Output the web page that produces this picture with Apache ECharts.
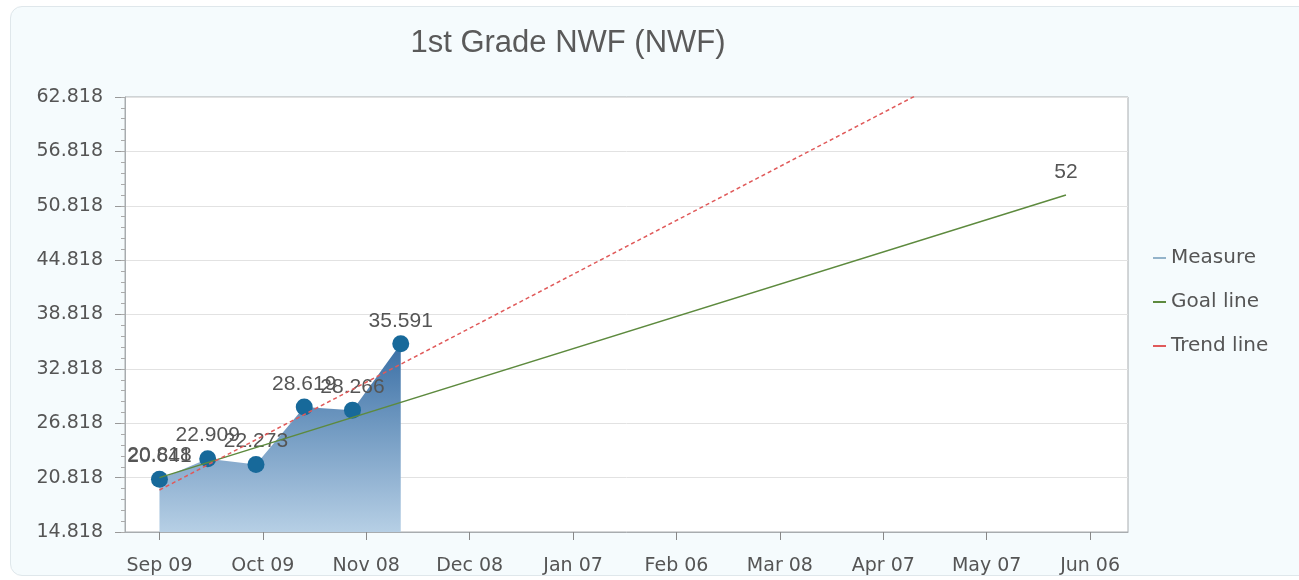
<!DOCTYPE html>
<html>
<head>
<meta charset="utf-8">
<script src="https://cdn.jsdelivr.net/npm/echarts@6/dist/echarts.min.js"></script>
<style>
  html, body { margin: 0; padding: 0; background: #fff; }
  .panel {
    position: absolute; left: 10px; top: 6px; width: 1300px; height: 568px;
    background: #f5fbfd; border: 1px solid #dfe7eb; border-radius: 12px;
  }
  #chart { position: absolute; left: 0; top: 0; width: 1299px; height: 580px; }
</style>
</head>
<body>
<div class="panel"></div>
<div id="chart"></div>
<script>
// x positions are days after the first measure (Sep 09)
var tickDays = [0, 30, 60, 90, 120, 150, 180, 210, 240, 270];
var tickLabels = ['Sep 09', 'Oct 09', 'Nov 08', 'Dec 08', 'Jan 07', 'Feb 06', 'Mar 08', 'Apr 07', 'May 07', 'Jun 06'];

var measureDays = [0, 14, 28, 42, 56, 70];
var measureValues = [20.641, 22.909, 22.273, 28.619, 28.266, 35.591];

var goalDays = [0, 263];
var goalValues = [20.818, 52];

var trendDays = [0, 270];
var trendValues = [19.45, 73.0];

var yTicks = [14.818, 20.818, 26.818, 32.818, 38.818, 44.818, 50.818, 56.818, 62.818];
var yMin = 14.818, yMax = 62.818;

// minor ticks on the y axis, 5 per major step
var yMinor = [];
for (var i = 0; i <= 40; i++) yMinor.push(+(yMin + i * 1.2).toFixed(3));

function pairs(xs, ys) {
  return xs.map(function (x, i) { return [x, ys[i]]; });
}

var labelFont = { fontFamily: 'Liberation Sans', fontSize: 21, color: '#555' };
var axisFont = { fontFamily: 'DejaVu Sans', fontSize: 19, color: '#555' };

var chart = echarts.init(document.getElementById('chart'));
chart.setOption({
  animation: false,
  title: {
    text: '1st Grade NWF (NWF)',
    left: 563, top: 23, textAlign: 'center',
    textStyle: { fontFamily: 'Liberation Sans', fontSize: 31, fontWeight: 'normal', color: '#5a5a5a' }
  },
  legend: {
    orient: 'vertical', left: 1148, top: 243, itemGap: 24,
    icon: 'rect', itemWidth: 13, itemHeight: 2,
    textStyle: { fontFamily: 'DejaVu Sans', fontSize: 20, color: '#555' },
    data: [
      { name: 'Measure', itemStyle: { color: '#93b3ca' } },
      { name: 'Goal line', itemStyle: { color: '#5d8a3e', opacity: 1 } },
      { name: 'Trend line', itemStyle: { color: '#e05a5a' } }
    ]
  },
  grid: {
    left: 125, top: 97, right: 171, bottom: 48,
    show: true, backgroundColor: '#fff', borderColor: '#a8acaf', borderWidth: 1
  },
  xAxis: {
    type: 'value', min: -10, max: 281,
    axisLine: { onZero: false, lineStyle: { color: '#a8acaf' } },
    axisTick: { show: true, length: 8, customValues: tickDays, lineStyle: { color: '#888' } },
    axisLabel: Object.assign({
      customValues: tickDays, margin: 25,
      formatter: function (v) { return tickLabels[tickDays.indexOf(v)]; }
    }, axisFont),
    splitLine: { show: false }
  },
  yAxis: [{
    type: 'value', min: yMin, max: yMax,
    axisLine: { show: true, onZero: false, lineStyle: { color: '#a8acaf' } },
    axisTick: { show: true, length: 10, customValues: yTicks, lineStyle: { color: '#999' } },
    axisLabel: Object.assign({
      customValues: yTicks, margin: 22,
      formatter: function (v) { return v.toFixed(3); }
    }, axisFont),
    splitLine: { show: true, lineStyle: { color: '#e2e2e2' } }
  }, {
    type: 'value', min: yMin, max: yMax, position: 'left',
    axisLine: { show: false, onZero: false },
    axisTick: { show: true, length: 4, customValues: yMinor, lineStyle: { color: '#aaa' } },
    axisLabel: { show: false },
    splitLine: { show: false }
  }],
  series: [{
    name: 'Measure', type: 'line',
    data: pairs(measureDays, measureValues),
    symbol: 'circle', symbolSize: 17,
    itemStyle: { color: '#17699a' },
    lineStyle: { width: 0, color: '#4d80b0' },
    areaStyle: {
      opacity: 1,
      color: new echarts.graphic.LinearGradient(0, 0, 0, 1, [
        { offset: 0, color: '#3a6fa5' },
        { offset: 1, color: '#b6cfe5' }
      ])
    },
    label: Object.assign({ show: true, position: 'top', distance: 4 }, labelFont),
    z: 3
  }, {
    name: 'Goal line', type: 'line',
    data: pairs(goalDays, goalValues),
    symbol: 'circle', symbolSize: 2, showSymbol: true, showAllSymbol: true,
    lineStyle: { color: '#5d8a3e', width: 1.5 },
    itemStyle: { color: 'rgba(93,138,62,0)' },
    label: Object.assign({ show: true, position: 'top', distance: 11 }, labelFont),
    z: 4
  }, {
    name: 'Trend line', type: 'line',
    data: pairs(trendDays, trendValues),
    symbol: 'none', clip: true,
    lineStyle: { color: '#e05a5a', width: 1.5, type: [4, 3] },
    itemStyle: { color: '#e05a5a' },
    z: 4
  }]
});
</script>
</body>
</html>
